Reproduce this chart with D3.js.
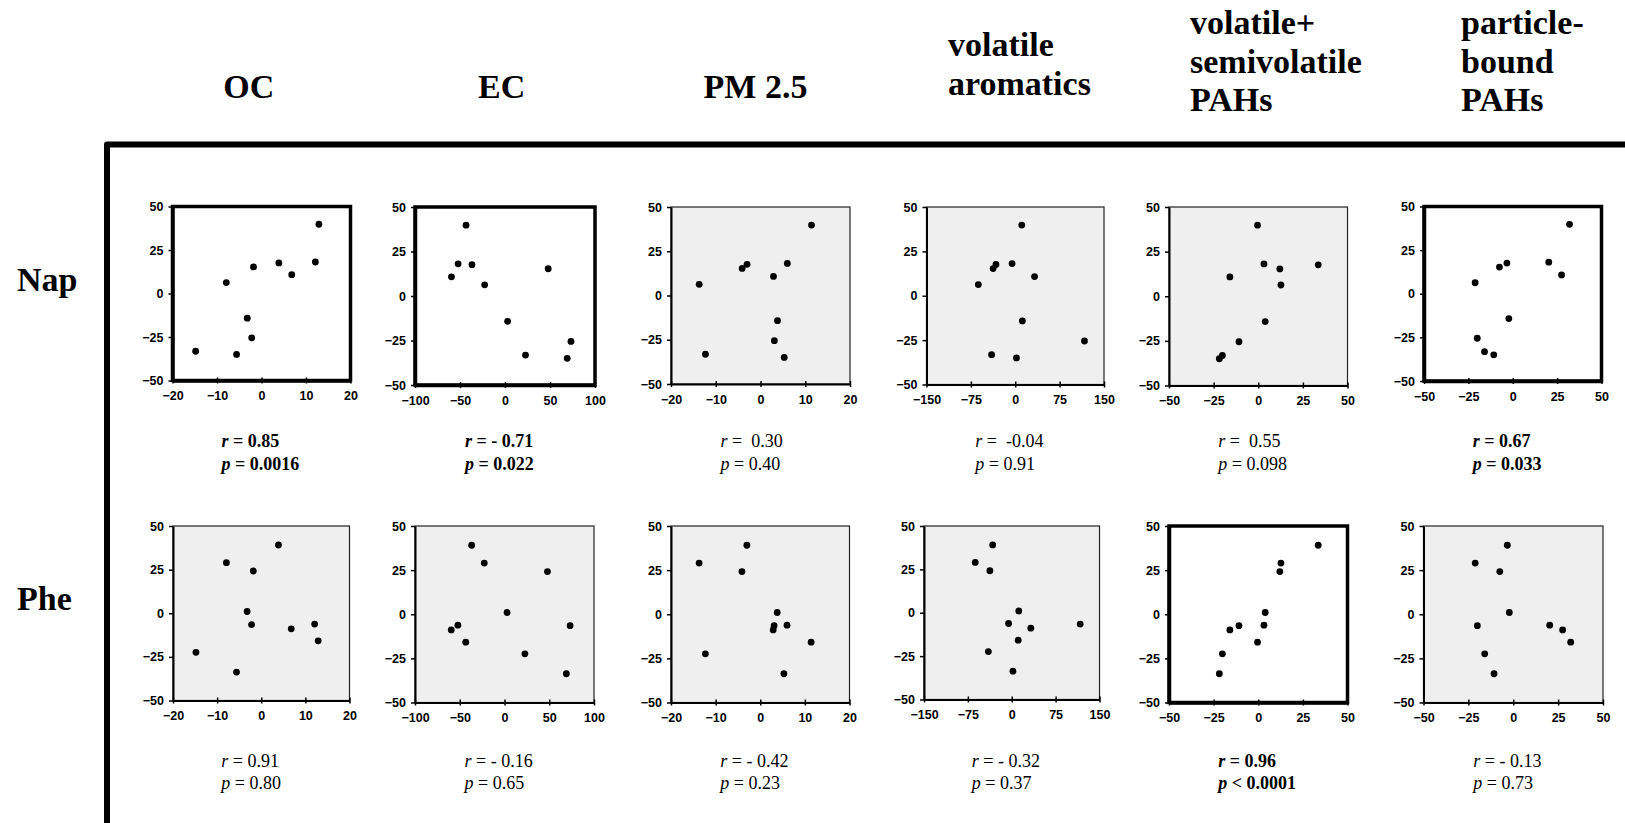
<!DOCTYPE html>
<html>
<head>
<meta charset="utf-8">
<script src="https://cdn.jsdelivr.net/npm/d3@7"></script>
<style>
  html, body { margin: 0; padding: 0; background: #fff; }
  svg { display: block; }
  .hdr { font-family: "Liberation Serif", "Times New Roman", serif; font-weight: bold; font-size: 34px; }
  .stat { font-family: "Liberation Serif", "Times New Roman", serif; font-size: 18px; white-space: pre; }
  .tick text { font-family: "Liberation Sans", Arial, sans-serif; font-weight: bold; font-size: 12.5px; fill: #000; }
</style>
</head>
<body>
<div id="chart"></div>
<script>
// ten samples, same order in every array
var columns = ["OC", "EC", "PM 2.5", "volatile aromatics", "volatile+ semivolatile PAHs", "particle- bound PAHs"];
var rows = ["Nap", "Phe"];

var ocX   = [12.9, 3.9, 12.1, -1.8, 6.8, -7.9, -3.2, -2.2, -14.8, -5.6];
var ecX   = [-43.3, -36.7, -52.1, 48, -59.5, -22.6, 2.9, 73.3, 22.8, 69.1];
var pmX   = [11.4, -3.0, 6.0, -4.1, 2.9, -13.7, 3.8, 3.1, -12.3, 5.3];
var volX  = [11, -32.6, -5.4, -37.4, 32.6, -62.4, 12, 117, -40, 2];
var semiX = [-0.4, 33.6, 3.2, 12.1, -15.9, 12.7, 3.9, -10.8, -20.1, -21.8];
var partX = [32, -3.3, 20.3, -7.5, 27.5, -21.2, -2.2, -20, -15.9, -10.7];

var napY = [39.8, 17.6, 18.1, 15.3, 10.8, 6.3, -14.2, -25.5, -33.2, -35];
var pheY = [-15.8, 39.1, -6.2, 24.2, -8.9, 29, 1, -6.5, -22.4, -33.7];

var xDomains = [[-20, 20], [-100, 100], [-20, 20], [-150, 150], [-50, 50], [-50, 50]];
var xTicks = [
  [-20, -10, 0, 10, 20],
  [-100, -50, 0, 50, 100],
  [-20, -10, 0, 10, 20],
  [-150, -75, 0, 75, 150],
  [-50, -25, 0, 25, 50],
  [-50, -25, 0, 25, 50]
];
var yTicks = [-50, -25, 0, 25, 50];

var rText = [
  ["0.85", "- 0.71", " 0.30", " -0.04", " 0.55", "0.67"],
  ["0.91", "- 0.16", "- 0.42", "- 0.32", "0.96", "- 0.13"]
];
var pText = [
  ["= 0.0016", "= 0.022", "= 0.40", "= 0.91", "= 0.098", "= 0.033"],
  ["= 0.80", "= 0.65", "= 0.23", "= 0.37", "< 0.0001", "= 0.73"]
];
var significant = [
  [true, true, false, false, false, true],
  [false, false, false, false, true, false]
];

var xData = [ocX, ecX, pmX, volX, semiX, partX];
var yData = [napY, pheY];

// panel boxes [left, right, top, bottom]
var boxes = [
  [[172.5, 350.5, 206.5, 380.5], [415, 595, 207, 385], [671, 850, 207, 384],
   [926.5, 1104, 207, 384.5], [1169, 1347.5, 207, 385.5], [1424, 1601.5, 206.5, 381]],
  [[173, 349.5, 526, 700.5], [415, 594, 526, 702.5], [671, 849.5, 526, 702.5],
   [924, 1099.5, 526, 699.5], [1169, 1347.5, 526, 702.5], [1423.5, 1603, 526, 702.5]]
];

var W = 1625, H = 823;
var svg = d3.select("#chart").append("svg")
    .attr("width", W)
    .attr("height", H);

// column headers
var headerPos = [
  {x: 248.7, anchor: "middle", base: [98]},
  {x: 501.6, anchor: "middle", base: [98]},
  {x: 755.5, anchor: "middle", base: [98]},
  {x: 948, anchor: "start", base: [56, 94.5]},
  {x: 1190, anchor: "start", base: [34, 72.5, 111]},
  {x: 1461, anchor: "start", base: [34, 72.5, 111]}
];
columns.forEach(function(c, i) {
  var lines = c.split(" ");
  if (i == 2) lines = [c];
  var t = svg.append("text")
      .attr("class", "hdr")
      .attr("text-anchor", headerPos[i].anchor);
  lines.forEach(function(l, j) {
    t.append("tspan")
        .attr("x", headerPos[i].x)
        .attr("y", headerPos[i].base[j])
        .text(l);
  });
});

// row labels
var rowBase = [291, 610];
rows.forEach(function(r, i) {
  svg.append("text")
      .attr("class", "hdr")
      .attr("x", 17)
      .attr("y", rowBase[i])
      .text(r);
});

// big frame
svg.append("path")
    .attr("d", "M107," + (H + 5) + " L107,144.5 L" + (W + 5) + ",144.5")
    .attr("fill", "none")
    .attr("stroke", "#000")
    .attr("stroke-width", 6)
    .attr("stroke-linejoin", "round");

var statBase = [[447, 469.5], [767, 789]];

rows.forEach(function(rowName, ri) {
  columns.forEach(function(colName, ci) {
    var b = boxes[ri][ci];
    var sig = significant[ri][ci];
    var w = b[1] - b[0], h = b[3] - b[2];
    var x = d3.scaleLinear().domain(xDomains[ci]).range([0, w]);
    var y = d3.scaleLinear().domain([-50, 50]).range([h, 0]);

    var g = svg.append("g").attr("transform", "translate(" + b[0] + "," + b[2] + ")");

    g.append("rect")
        .attr("width", w)
        .attr("height", h)
        .attr("fill", sig ? "#fff" : "#efefef")
        .attr("stroke", sig ? "#000" : "#222")
        .attr("stroke-width", sig ? 3.5 : 1.2);

    var ya = g.append("g")
        .call(d3.axisLeft(y).tickValues(yTicks).tickSize(4).tickSizeOuter(0).tickPadding(5));
    var xa = g.append("g")
        .attr("transform", "translate(0," + h + ")")
        .call(d3.axisBottom(x).tickValues(xTicks[ci]).tickSize(3).tickSizeOuter(0).tickPadding(8));
    [ya, xa].forEach(function(a) {
      a.select(".domain").attr("stroke", "#000").attr("stroke-width", sig ? 3.5 : 2);
      a.selectAll(".tick line").attr("stroke", "#000").attr("stroke-width", 1.5);
    });
    xa.selectAll(".tick line").attr("y1", -3);

    g.selectAll("circle")
        .data(d3.range(xData[ci].length))
        .enter().append("circle")
        .attr("cx", function(k) { return x(xData[ci][k]); })
        .attr("cy", function(k) { return y(yData[ri][k]); })
        .attr("r", 3.4)
        .attr("fill", "#000");

    // r and p
    var tx = (b[0] + b[1]) / 2 - 40;
    var rt = svg.append("text")
        .attr("class", "stat")
        .attr("x", tx)
        .attr("y", statBase[ri][0])
        .attr("font-weight", sig ? "bold" : "normal");
    rt.append("tspan").attr("font-style", "italic").text("r");
    rt.append("tspan").text(" = " + rText[ri][ci]);
    var pt = svg.append("text")
        .attr("class", "stat")
        .attr("x", tx)
        .attr("y", statBase[ri][1])
        .attr("font-weight", sig ? "bold" : "normal");
    pt.append("tspan").attr("font-style", "italic").text("p");
    pt.append("tspan").text(" " + pText[ri][ci]);
  });
});
</script>
</body>
</html>
